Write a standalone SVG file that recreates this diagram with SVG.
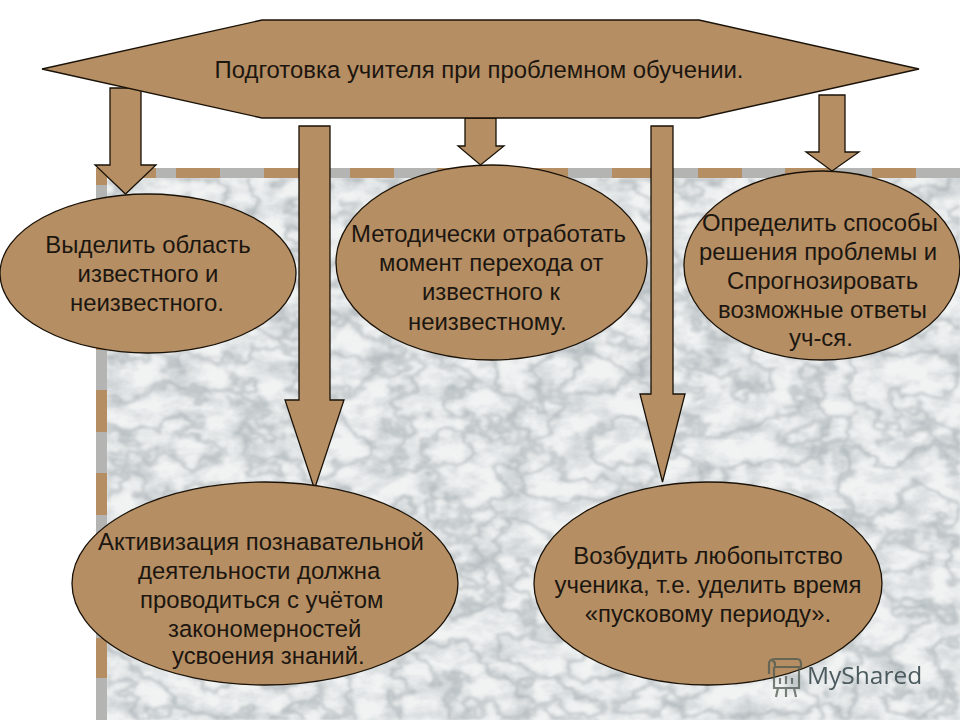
<svg xmlns="http://www.w3.org/2000/svg" width="960" height="720" viewBox="0 0 960 720">
<style>
.s{fill:#b58e63;stroke:#1a1208;stroke-width:1.3}
.t{font-family:"Liberation Sans",Arial,sans-serif;font-size:23.900px;fill:#1c1610}
.m{text-anchor:middle}
</style>
<defs>
<filter id="veins" x="0" y="0" width="100%" height="100%" color-interpolation-filters="sRGB">
<feTurbulence type="fractalNoise" baseFrequency="0.02 0.028" numOctaves="4" seed="23"/>
<feColorMatrix type="matrix" values="0 0 0 0 0.56  0 0 0 0 0.60  0 0 0 0 0.62  1 0 0 0 0"/>
<feComponentTransfer><feFuncA type="table" tableValues="0 0 0 0 0 0 .12 .6 .12 0 0 0 0 0 0"/></feComponentTransfer>
<feGaussianBlur stdDeviation="1"/>
</filter>
<filter id="clouds" x="0" y="0" width="100%" height="100%" color-interpolation-filters="sRGB">
<feTurbulence type="fractalNoise" baseFrequency="0.03 0.05" numOctaves="4" seed="4"/>
<feColorMatrix type="matrix" values="0 0 0 0 0.70  0 0 0 0 0.73  0 0 0 0 0.75  2.200 0 0 0 -0.900"/>
</filter>
<filter id="soft"><feGaussianBlur stdDeviation="0.6"/></filter>
</defs>
<rect width="960" height="720" fill="#fff"/>
<g id="background">
<rect x="96" y="168" width="864" height="552" fill="#b58e63"/>
<path d="M220 168h44v10h-44zM307 168h43v10h-43zM394 168h43v10h-43zM481 168h43v10h-43zM568 168h44v10h-44zM655 168h43v10h-43zM742 168h43v10h-43zM829 168h43v10h-43zM916 168h44v10h-44zM156 168h20v10h-20zM96 185h11v41H96zM96 267h11v41H96zM96 350h11v40H96zM96 432h11v41H96zM96 515h11v41H96zM96 597h11v41H96zM96 678h11v42H96z" fill="#b4b4b2"/>
<rect x="107" y="178" width="853" height="542" fill="#f1f3f3"/>
<rect x="107" y="178" width="853" height="542" filter="url(#clouds)" opacity=".6"/>
<rect x="107" y="178" width="853" height="542" filter="url(#veins)" opacity=".75"/>
</g>
<g id="connectors">
<path class="s" d="M110 88h31v77h15l-30.500 29L95 165h15z"/>
<path class="s" d="M299 126h31v274h14l-29.500 89L285 400h14z"/>
<path class="s" d="M465 118h31v28h8l-23.500 19L458 146h7z"/>
<path class="s" d="M651 126h22v268h12l-22.500 88L640 394h11z"/>
<path class="s" d="M819 95h26v57h14l-27 19-26-19h13z"/>
</g>
<g id="n-top">
<path class="s" d="M42 69 262 20H699L919 69 699 118H262z"/>
<text class="t m" x="479" y="78">Подготовка учителя при проблемном обучении.</text>
</g>
<g id="n-left">
<ellipse class="s" cx="148" cy="273.500" rx="148" ry="79.500"/>
<text class="t m"><tspan x="148" y="253">Выделить область</tspan><tspan x="148" y="282">известного и</tspan><tspan x="147" y="311">неизвестного.</tspan></text>
</g>
<g id="n-mid">
<ellipse class="s" cx="491.500" cy="262.500" rx="155.500" ry="97.500"/>
<text class="t"><tspan x="351" y="242">Методически отработать</tspan><tspan x="379" y="271">момент перехода от</tspan><tspan x="422" y="300">известного к</tspan><tspan x="408" y="330">неизвестному.</tspan></text>
</g>
<g id="n-right">
<ellipse class="s" cx="822" cy="265.500" rx="138" ry="94.500"/>
<text class="t"><tspan x="702" y="231">Определить способы</tspan><tspan x="699" y="260">решения проблемы и</tspan><tspan x="727" y="289">Спрогнозировать</tspan><tspan x="718" y="318">возможные ответы</tspan><tspan x="789" y="346">уч-ся.</tspan></text>
</g>
<g id="n-bl">
<ellipse class="s" cx="265" cy="583.500" rx="193" ry="101.500"/>
<text class="t"><tspan x="98" y="550">Активизация познавательной</tspan><tspan x="138" y="579">деятельности должна</tspan><tspan x="140" y="608">проводиться с учётом</tspan><tspan x="168" y="637">закономерностей</tspan><tspan x="172" y="664">усвоения знаний.</tspan></text>
</g>
<g id="n-br">
<ellipse class="s" cx="708" cy="583.500" rx="174" ry="101.500"/>
<text class="t m"><tspan x="708" y="564">Возбудить любопытство</tspan><tspan x="708" y="593">ученика, т.е. уделить время</tspan><tspan x="708" y="622">«пусковому периоду».</tspan></text>
</g>
<g id="watermark" filter="url(#soft)">
<g fill="none" stroke="#4c5a50" stroke-width="2.200" opacity=".75">
<path d="M769 674v-10q0-5 6-5h22q4 0 4 5v3h-26v-3q0-3-3-3"/><path d="M774 667v21h25v-21M778 688l-2 9M786 688v9M794 688l2 9M780 684v-6M786 684v-8M792 684v-6"/>
</g>
<text x="807" y="684" font-family="'Open Sans',sans-serif" font-size="24.500" fill="#4c5a5e">MyShared</text>
</g>
</svg>
